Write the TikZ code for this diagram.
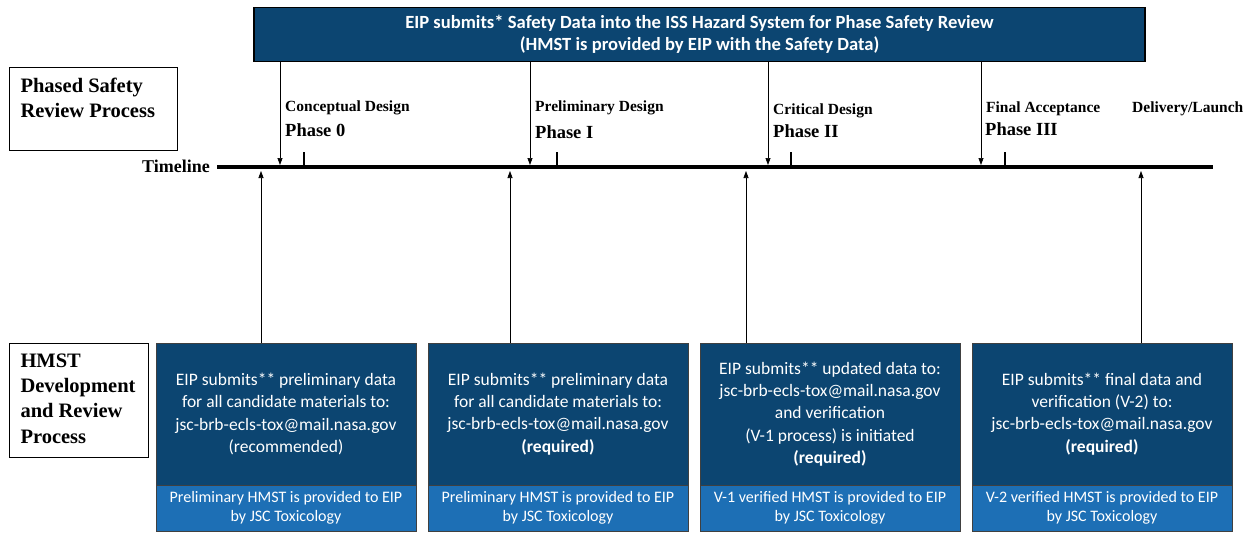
\documentclass[tikz,border=0pt]{standalone}
\usepackage{fontspec}
\setmainfont{Carlito}
\newfontfamily\tnr{Liberation Serif}
\usetikzlibrary{arrows.meta}
\definecolor{navy}{RGB}{12,69,113}
\definecolor{lblue}{RGB}{29,111,181}
\begin{document}
\begin{tikzpicture}[x=1pt,y=-1pt,
  hdr/.style={draw=black, line width=1.5pt, fill=navy, text=white, align=center,
    font=\bfseries\fontsize{18.6}{22}\selectfont, minimum width=891pt, minimum height=54pt, inner sep=0pt},
  sidebox/.style={draw=black, line width=1pt, fill=white, anchor=north west, inner sep=0pt,
    font=\tnr\bfseries\fontsize{20.5}{25.3}\selectfont},
  dbox/.style={draw=black!75, line width=0.8pt, fill=navy, text=white, align=center,
    font=\fontsize{17.5}{22.3}\selectfont, minimum width=260pt, minimum height=142pt, inner sep=0pt},
  lbox/.style={draw=black!75, line width=0.8pt, fill=lblue, text=white, align=center,
    font=\fontsize{16}{19}\selectfont, minimum width=260pt, minimum height=46pt, inner sep=0pt},
  phs/.style={anchor=base west, inner sep=0pt, font=\tnr\bfseries\fontsize{15.5}{18}\selectfont},
  phn/.style={anchor=base west, inner sep=0pt, font=\tnr\bfseries\fontsize{18.5}{20}\selectfont},
  conn/.style={line width=0.7pt, -{Triangle[length=7pt,width=5pt]}},
  tick/.style={line width=2.5pt}
]
\useasboundingbox (0,0) rectangle (1256,533);

% banner
\node[hdr] (banner) at (699.5,34.5) {EIP submits* Safety Data into the ISS Hazard System for Phase Safety Review\\(HMST is provided by EIP with the Safety Data)};

% side labels
\node[sidebox] (psr) at (9,67) {\parbox[c][83pt][t]{168pt}{\hspace*{11pt}\rule{0pt}{24.5pt}Phased Safety\\\hspace*{11pt}Review Process}};
\node[sidebox] (hdr2) at (9,343) {\parbox[c][114pt][t]{139pt}{\hspace*{11pt}\rule{0pt}{23.7pt}HMST\\\hspace*{11pt}Development\\\hspace*{11pt}and Review\\\hspace*{11pt}Process}};

% timeline
\node[anchor=base east, inner sep=0pt, font=\tnr\bfseries\fontsize{18}{20}\selectfont] (tl) at (210,172) {Timeline};
\coordinate (tlA) at (217,167);
\coordinate (tlB) at (1213,167);
\draw[line width=4pt] (tlA) -- (tlB);

% ticks
\foreach \x [count=\i] in {304,557,791,1005}{
  \coordinate (k\i) at (\x,152);
  \draw[tick] (k\i) -- (k\i |- tlA);
}

% phase labels
\node[phs] (p0a) at (285,111) {Conceptual Design};
\node[phn] (p0b) at (285,136) {Phase 0};
\node[phs] (p1a) at (535,111) {Preliminary Design};
\node[phn] (p1b) at (535,138) {Phase I};
\node[phs] (p2a) at (773,114) {Critical Design};
\node[phn] (p2b) at (773,137) {Phase II};
\node[phs] (p3a) at (986,112) {Final Acceptance};
\node[phn] (p3b) at (985,135) {Phase III};
\node[phs] (p4a) at (1132,112) {Delivery/Launch};

% down arrows from banner
\foreach \x [count=\i] in {280,530,768,981}{
  \coordinate (d\i) at (\x,165);
  \draw[conn] (banner.south -| d\i) -- (d\i);
}

% boxes
\node[dbox] (b1) at (286,414) {EIP submits** preliminary data\\for all candidate materials to:\\jsc-brb-ecls-tox@mail.nasa.gov\\(recommended)};
\node[lbox] (c1) at (286,508) {Preliminary HMST is provided to EIP\\by JSC Toxicology};
\node[dbox] (b2) at (558,414) {EIP submits** preliminary data\\for all candidate materials to:\\jsc-brb-ecls-tox@mail.nasa.gov\\\textbf{(required)}};
\node[lbox] (c2) at (558,508) {Preliminary HMST is provided to EIP\\by JSC Toxicology};
\node[dbox] (b3) at (830,414) {EIP submits** updated data to:\\jsc-brb-ecls-tox@mail.nasa.gov\\and verification\\(V-1 process) is initiated\\\textbf{(required)}};
\node[lbox] (c3) at (830,508) {V-1 verified HMST is provided to EIP\\by JSC Toxicology};
\node[dbox] (b4) at (1102,414) {EIP submits** final data and\\verification (V-2) to:\\jsc-brb-ecls-tox@mail.nasa.gov\\\textbf{(required)}};
\node[lbox] (c4) at (1102,508) {V-2 verified HMST is provided to EIP\\by JSC Toxicology};

% up arrows from boxes
\foreach \x/\b [count=\i] in {261/b1,510/b2,746/b3,1141/b4}{
  \coordinate (u\i) at (\x,171);
  \draw[conn] (\b.north -| u\i) -- (u\i);
}
\end{tikzpicture}
\end{document}
